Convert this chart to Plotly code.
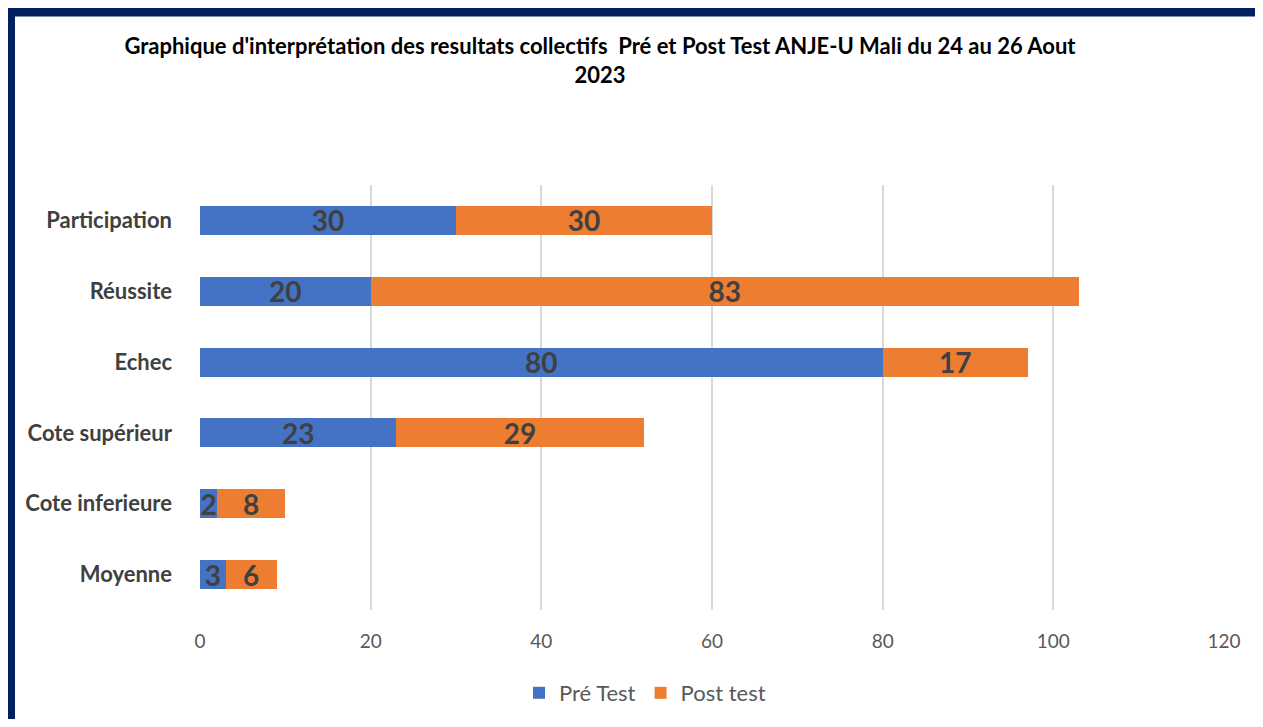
import plotly.graph_objects as go

categories = ["Participation", "Réussite", "Echec", "Cote supérieur", "Cote inferieure", "Moyenne"]
pre_test = [30, 20, 80, 23, 2, 3]
post_test = [30, 83, 17, 29, 8, 6]
x_ticks = [0, 20, 40, 60, 80, 100, 120]

TITLE = ("Graphique d'interprétation des resultats collectifs  Pré et Post Test "
         "ANJE-U Mali du 24 au 26 Aout<br>2023")

FONT = "Lato, Open Sans, sans-serif"
BLUE = "#4472C4"
ORANGE = "#ED7D31"

# page has an 8px body margin, so the figure is laid out 8px up/left of the reference
W, H = 1247, 711
L, T = 192, 177
PW, PH = 1024, 425

fig = go.Figure()

for name, vals, color in [("Pré Test", pre_test, BLUE), ("Post test", post_test, ORANGE)]:
    fig.add_trace(go.Bar(
        y=categories, x=vals, name=name, orientation="h",
        marker=dict(color=color, line=dict(width=0)),
        text=vals, texttemplate="<b>%{x}</b>",
        textposition="inside", insidetextanchor="middle", textangle=0,
        textfont=dict(family=FONT, size=28, color="#404040"),
        width=0.41,
    ))

# navy frame on the left and top (the picture is cropped on the right/bottom)
fig.add_shape(type="rect", xref="paper", yref="paper",
              x0=(2 - L) / PW, x1=1.3, y0=-0.6, y1=(T + PH - 3.5) / PH,
              line=dict(color="#002060", width=10), layer="above")

fig.update_layout(
    barmode="stack",
    width=W, height=H,
    margin=dict(l=L, r=W - L - PW, t=T, b=H - T - PH, autoexpand=False),
    paper_bgcolor="white", plot_bgcolor="white",
    font=dict(family=FONT, color="#595959"),
    title=dict(text=f"<b>{TITLE}</b>", x=592 / W, xanchor="center",
               y=1 - 46 / H, yanchor="middle",
               font=dict(family=FONT, size=22, color="black")),
    xaxis=dict(range=[0, 120], tickvals=x_ticks, showgrid=True,
               gridcolor="#D9D9D9", gridwidth=1.5, zeroline=False,
               showline=False, ticks="", ticklabelstandoff=18,
               tickfont=dict(size=19, color="#595959")),
    yaxis=dict(autorange="reversed", showgrid=False, zeroline=False,
               showline=False, ticks="", ticklabelstandoff=27,
               tickfont=dict(size=22, color="#404040", weight="bold")),
    uniformtext=dict(minsize=28, mode="show"),
    showlegend=True,
    legend=dict(orientation="h", x=(637 - L) / PW, xanchor="center",
                y=(T + PH - 685) / PH, yanchor="middle",
                font=dict(size=22, color="#595959"), itemwidth=30,
                traceorder="normal"),
    bargap=0.59,
)

fig.write_html("out.html")
